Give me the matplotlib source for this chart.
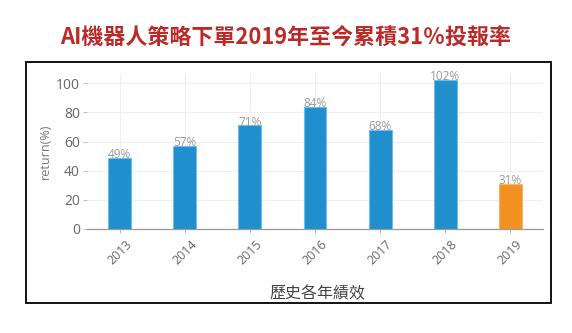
import matplotlib.pyplot as plt
from matplotlib.patches import Rectangle

plt.rcParams['font.family'] = ['Open Sans', 'Noto Sans CJK TC', 'DejaVu Sans']

years = ['2013', '2014', '2015', '2016', '2017', '2018', '2019']
returns = [49, 57, 71, 84, 68, 102, 31]
labels = ['49%', '57%', '71%', '84%', '68%', '102%', '31%']
colors = ['#1f8fcd'] * 6 + ['#f29122']
edges = ['#6fbde8'] * 6 + ['#f7b76a']

fig = plt.figure(figsize=(5.72, 3.33), dpi=100)
W, H = 572, 333

# black frame around the chart
fig.patches.append(Rectangle((26 / W, 1 - 303 / H), (551 - 26) / W, (303 - 62) / H,
                             transform=fig.transFigure, fill=False,
                             edgecolor='black', linewidth=1.3))

fig.text(0.5, 1 - 37 / H, 'AI機器人策略下單2019年至今累積31％投報率',
         ha='center', va='center', fontsize=15.8, fontweight='bold',
         color='#bb2a28', family=['Noto Sans CJK TC', 'DejaVu Sans'])

ax = fig.add_axes([87 / W, 1 - 229 / H, (543 - 87) / W, (229 - 73) / H])
x = range(len(years))
ax.bar(x, returns, width=0.35, color=colors, edgecolor=edges, linewidth=0.8, zorder=3)
for i, (v, t) in enumerate(zip(returns, labels)):
    ax.text(i, v - 2.2, t, ha='center', va='bottom', fontsize=8.5, color='#9a9a9a', zorder=4)

ax.set_xlim(-0.5, 6.5)
ax.set_ylim(0, 107)
ax.set_yticks([0, 20, 40, 60, 80, 100])
ax.set_xticks(list(x))
ax.set_xticklabels(years, rotation=45, ha='center', va='top')
ax.tick_params(axis='both', colors='#b0b0b0', labelcolor='#666666', labelsize=9, length=3, width=0.6)
ax.tick_params(axis='y', pad=2, labelsize=10)
ax.grid(True, color='#f0f0f0', linewidth=0.8, zorder=0)
for s in ['top', 'right', 'left']:
    ax.spines[s].set_visible(False)
ax.spines['bottom'].set_color('#999999')
ax.spines['bottom'].set_linewidth(0.9)

ax.set_ylabel('return(%)', fontsize=9, color='#777777', labelpad=3)
fig.text(317 / W, 1 - 294 / H, '歷史各年績效', ha='center', va='center',
         fontsize=11.5, color='#444444', family=['Noto Sans CJK TC', 'DejaVu Sans'])

fig.savefig('out.png', dpi=100)
